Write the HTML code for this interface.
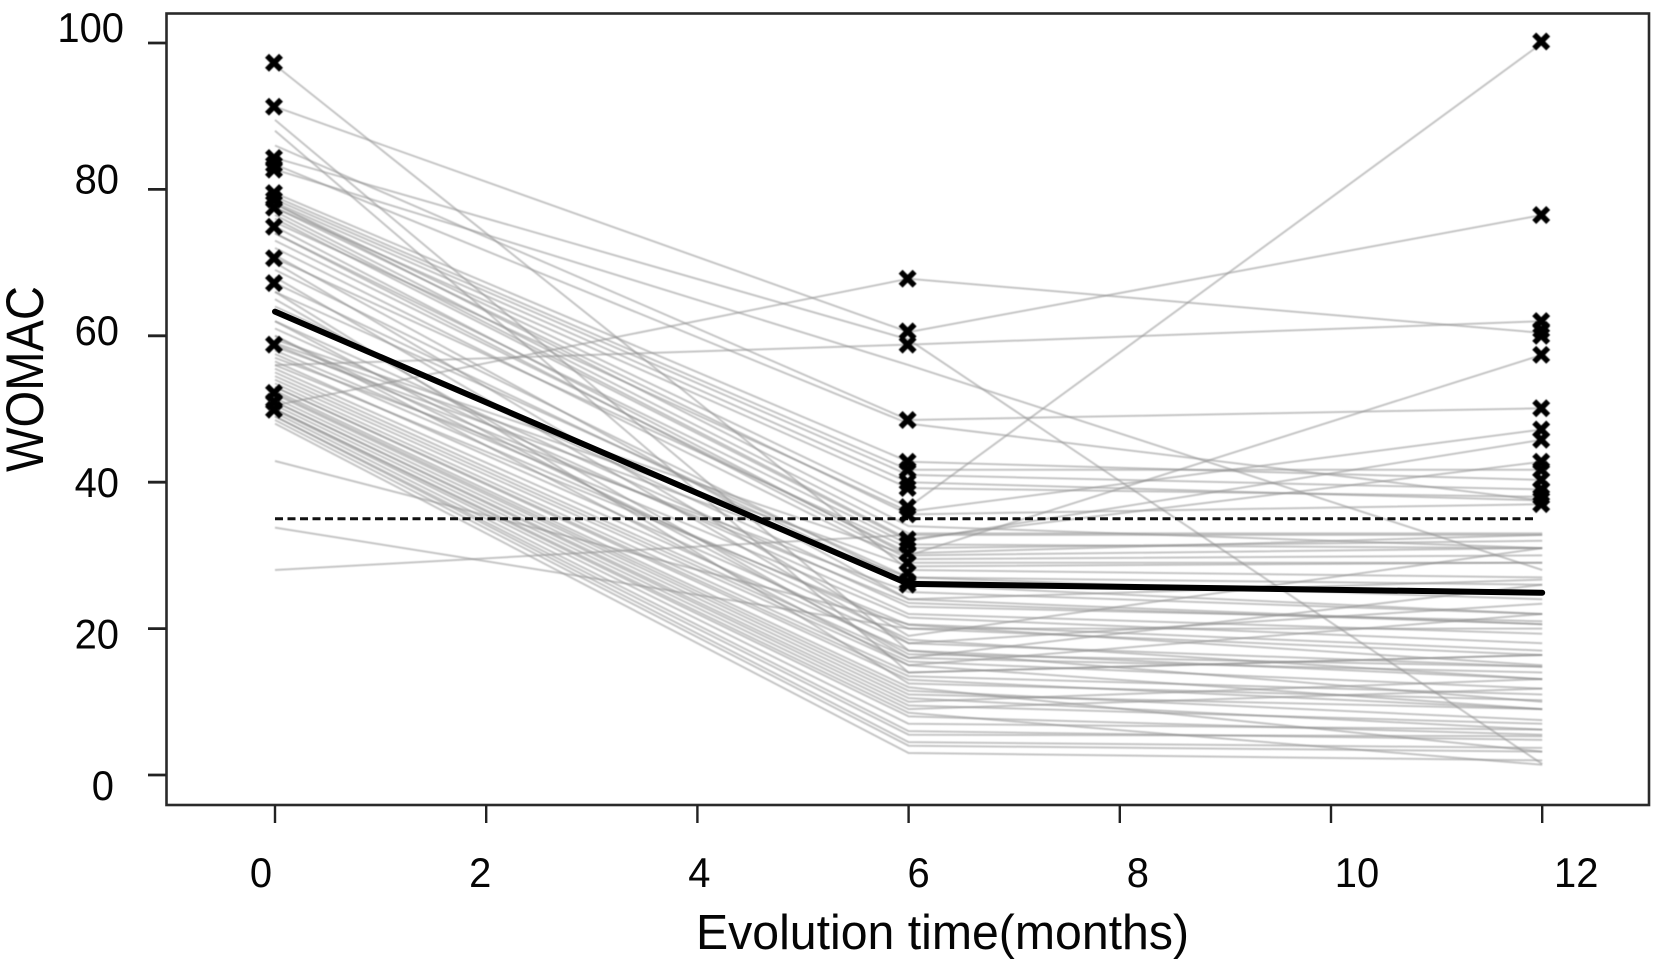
<!DOCTYPE html>
<html lang="en">
<head>
<meta charset="utf-8">
<title>WOMAC evolution over time</title>
<style>
html,body{margin:0;padding:0;background:#fff;}
svg{display:block;}
text{font-family:"Liberation Sans",Arial,sans-serif;fill:#050505;}
</style>
</head>
<body>
<svg id="chart" width="1653" height="972" viewBox="0 0 1653 972" xmlns="http://www.w3.org/2000/svg">
  <rect x="0" y="0" width="1653" height="972" fill="#fff"/>
  <g id="patient-lines" fill="none" stroke="#909090" stroke-opacity="0.52" stroke-width="2" stroke-linejoin="round" style="filter:blur(0.5px)"></g>
  <line id="threshold" stroke="#111" stroke-width="3" stroke-dasharray="8 4.5"/>
  <polyline id="mean-line" fill="none" stroke="#000" stroke-width="6" stroke-linejoin="round" stroke-linecap="round"/>
  <g id="markers" stroke="#000" stroke-width="5.6" style="filter:blur(0.5px)"></g>
  <rect x="166.5" y="13.5" width="1482.5" height="791.5" fill="none" stroke="#2a2a2a" stroke-width="2.6"/>
  <g id="y-axis"></g>
  <g id="x-axis"></g>
  <text x="696" y="949" font-size="49" textLength="493" lengthAdjust="spacingAndGlyphs">Evolution time(months)</text>
  <text transform="translate(43,472) rotate(-90)" font-size="53" textLength="186" lengthAdjust="spacingAndGlyphs">WOMAC</text>
</svg>
<script>
const xTicks = [0, 2, 4, 6, 8, 10, 12];
const yTicks = [0, 20, 40, 60, 80, 100];
const visitMonths = [0, 6, 12];
const thresholdValue = 35;
const meanValues = [63.3, 26.1, 24.9];

const womacMonth0 = [
  97, 91.3, 84.3, 56, 82.7, 50.5, 86, 83.4,
  79.5, 79, 78.6, 78.2, 78, 77.5, 77.5, 77, 76.5, 76, 75.5, 74.9, 74, 73, 72, 71, 70.6, 70, 69, 68, 67.2, 66, 65, 64, 62, 61, 60, 88, 89.5,
  59.5, 59, 58.8, 58.5, 58, 57.5, 57, 56.5, 56, 55.5, 55, 54.5, 54, 53.5, 53, 53, 52.5, 52.2, 52, 51.5, 51, 51, 50.5, 50, 50, 49.9, 49.5, 49, 49, 48.5, 48,
  42.9, 33.8, 28, 60, 62, 66, 74, 78
];
const womacMonth6 = [
  28, 60.5, 59.5, 58.8, 56, 67.8, 48.5, 48,
  42.8, 41.7, 41, 40, 36.6, 39.2, 35.6, 33, 32.2, 32, 36, 30, 31.5, 30.3, 29, 24, 31, 19, 26.4, 18, 26, 27, 16, 24, 23, 22, 15, 14, 17,
  30, 28.5, 23.5, 27, 21.5, 20, 25, 18, 20.5, 17, 16, 15.5, 15, 14, 13.5, 13, 12, 11.5, 11, 10.5, 10, 9.5, 9, 8.5, 8, 7, 6, 5.5, 4.5, 4, 3,
  20.6, 20, 32.8, 18.5, 16.5, 12.5, 29.5, 34
];
const womacMonth12 = [
  27, 76.5, 1.5, 62, 28, 60.4, 50.1, 37.5,
  40.3, 41.7, 39, 37.5, 100, 38, 37, 33, 42.8, 45.8, 47.2, 57.4, 31, 32.8, 29, 26.7, 32, 31, 25, 23.4, 22, 24, 26, 20.6, 21, 19.3, 22, 16.4, 10,
  31, 29, 20.6, 26, 18, 16.4, 22, 14.8, 15, 13.1, 14, 11.8, 9, 16.4, 11, 9, 3.2, 7.5, 9, 6.2, 13.1, 7, 11.8, 1.4, 5.5, 6.2, 4.8, 5.3, 3.7, 3.2, 2,
  17, 20, 32.8, 13.1, 14.8, 10.2, 30, 31
];

const markersMonth0 = [97.3, 91.3, 84.3, 83.4, 82.7, 79.5, 78.6, 77.5, 74.9, 70.6, 67.2, 58.8, 52.2, 51, 49.9];
const markersMonth6 = [67.8, 60.6, 58.8, 48.5, 42.8, 41.7, 40, 39.2, 36.6, 35.6, 32.2, 31.5, 30.3, 29, 27.6, 26.4, 26];
const markersMonth12 = [100.2, 76.5, 62, 60.8, 60, 57.4, 50.1, 47.2, 45.8, 42.8, 41.7, 40.3, 39, 38, 37];

const SVG_NS = 'http://www.w3.org/2000/svg';
function xScale(month) { return 275 + 105.6 * month; }
function yScale(value) { return 775 - 7.32 * value; }
function xLabelPos(month) { return 261 + 109.6 * month; }
function yLabelPos(value) { return 800 - 7.58 * value; }
function make(tag, attrs) {
  const el = document.createElementNS(SVG_NS, tag);
  for (const k in attrs) el.setAttribute(k, attrs[k]);
  return el;
}
const linesGroup = document.getElementById('patient-lines');
womacMonth0.forEach(function (v0, i) {
  const series = [v0, womacMonth6[i], womacMonth12[i]];
  const pts = series.map(function (v, j) { return xScale(visitMonths[j]).toFixed(1) + ',' + yScale(v).toFixed(1); }).join(' ');
  const line = make('polyline', { points: pts });
  
  
  linesGroup.appendChild(line);
});

const threshold = document.getElementById('threshold');
threshold.setAttribute('x1', xScale(0));
threshold.setAttribute('x2', xScale(12) - 6);
threshold.setAttribute('y1', yScale(thresholdValue));
threshold.setAttribute('y2', yScale(thresholdValue));

document.getElementById('mean-line').setAttribute('points', meanValues.map(function (v, j) {
  return xScale(visitMonths[j]).toFixed(1) + ',' + yScale(v).toFixed(1);
}).join(' '));

const markerGroup = document.getElementById('markers');
function drawMarkers(values, month) {
  values.forEach(function (v) {
    const cx = xScale(month) - 1;
    const cy = yScale(v);
    const r = 7;
    const g = make('g', {});
    
    
    g.appendChild(make('line', { x1: cx - r, y1: cy - r, x2: cx + r, y2: cy + r }));
    g.appendChild(make('line', { x1: cx - r, y1: cy + r, x2: cx + r, y2: cy - r }));
    markerGroup.appendChild(g);
  });
}
drawMarkers(markersMonth0, 0);
drawMarkers(markersMonth6, 6);
drawMarkers(markersMonth12, 12);

const yAxis = document.getElementById('y-axis');
yTicks.forEach(function (v) {
  const y = yScale(v);
  const tick = make('line', { x1: 148, x2: 166, y1: y, y2: y, stroke: '#222', 'stroke-width': 2.8 });
  
  
  yAxis.appendChild(tick);
  const s = String(v);
  const label = make('text', { x: 109 + 5 * s.length, y: yLabelPos(v), 'text-anchor': 'end', 'font-size': 42, textLength: 22.2 * s.length, lengthAdjust: 'spacingAndGlyphs' });
  
  
  label.textContent = s;
  yAxis.appendChild(label);
});

const xAxis = document.getElementById('x-axis');
xTicks.forEach(function (m) {
  const x = xScale(m);
  const tick = make('line', { x1: x, x2: x, y1: 805, y2: 823, stroke: '#222', 'stroke-width': 2.4 });
  
  
  xAxis.appendChild(tick);
  const s = String(m);
  const label = make('text', { x: xLabelPos(m), y: 887, 'text-anchor': 'middle', 'font-size': 42, textLength: 22.2 * s.length, lengthAdjust: 'spacingAndGlyphs' });
  
  
  label.textContent = s;
  xAxis.appendChild(label);
});
</script>
</body>
</html>
